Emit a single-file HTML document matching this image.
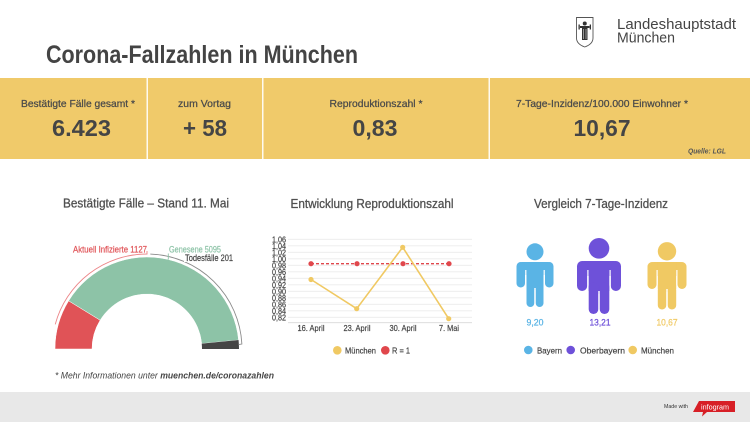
<!DOCTYPE html>
<html><head><meta charset="utf-8"><style>
html,body{margin:0;padding:0;background:#fff;}
svg{display:block;font-family:"Liberation Sans",Arial,sans-serif;}
</style></head><body>
<svg width="750" height="422" viewBox="0 0 750 422" xmlns="http://www.w3.org/2000/svg">
<rect x="0" y="0" width="750" height="422" fill="#ffffff"/>

<!-- Logo -->
<path d="M576.5,17.5 L593,17.5 L593,38 Q593,44 584.75,47 Q576.5,44 576.5,38 Z" fill="#fff" stroke="#555" stroke-width="0.9"/>
<circle cx="584.75" cy="23.5" r="2" fill="#333"/>
<path d="M580,26 L589.5,26 L589.5,28 L587.5,28 L587.5,40 L582,40 L582,28 L580,28 Z" fill="#333"/>
<rect x="578.5" y="24.5" width="1.3" height="5" fill="#333"/>
<rect x="589.7" y="24.5" width="1.3" height="5" fill="#333"/>
<line x1="583.5" y1="29" x2="583.5" y2="39" stroke="#fff" stroke-width="0.5"/>
<line x1="586" y1="29" x2="586" y2="39" stroke="#fff" stroke-width="0.5"/>
<text x="617" y="29" font-size="15" fill="#444" textLength="119" lengthAdjust="spacingAndGlyphs">Landeshauptstadt</text>
<text x="617" y="42.5" font-size="15" fill="#444" textLength="58" lengthAdjust="spacingAndGlyphs">München</text>

<!-- Title -->
<text x="46" y="63" font-size="25" font-weight="bold" fill="#444" textLength="312" lengthAdjust="spacingAndGlyphs">Corona-Fallzahlen in München</text>

<!-- Yellow band -->
<rect x="0" y="78" width="750" height="81" fill="#f0ca6a"/>
<rect x="146.5" y="78" width="1.5" height="81" fill="#fff" opacity="0.9"/>
<rect x="262" y="78" width="1.5" height="81" fill="#fff" opacity="0.9"/>
<rect x="488.5" y="78" width="1.5" height="81" fill="#fff" opacity="0.9"/>

<g font-size="10.5" fill="#4a4a4a" stroke="#4a4a4a" stroke-width="0.25" text-anchor="middle">
<text x="78" y="107" textLength="114" lengthAdjust="spacingAndGlyphs">Bestätigte Fälle gesamt *</text>
<text x="204.5" y="107" textLength="53" lengthAdjust="spacingAndGlyphs">zum Vortag</text>
<text x="376" y="107" textLength="93" lengthAdjust="spacingAndGlyphs">Reproduktionszahl *</text>
<text x="602" y="107" textLength="172" lengthAdjust="spacingAndGlyphs">7-Tage-Inzidenz/100.000 Einwohner *</text>
</g>

<text x="81.5" y="136" font-size="23.5" font-weight="bold" fill="#454545" text-anchor="middle" textLength="59" lengthAdjust="spacingAndGlyphs">6.423</text>
<text x="205" y="136" font-size="23.5" font-weight="bold" fill="#454545" text-anchor="middle" textLength="44" lengthAdjust="spacingAndGlyphs">+ 58</text>
<text x="375" y="136" font-size="23.5" font-weight="bold" fill="#454545" text-anchor="middle" textLength="45" lengthAdjust="spacingAndGlyphs">0,83</text>
<text x="602" y="136" font-size="23.5" font-weight="bold" fill="#454545" text-anchor="middle" textLength="57" lengthAdjust="spacingAndGlyphs">10,67</text>
<text x="707" y="153.5" font-size="7" font-style="italic" font-weight="bold" fill="#555" text-anchor="middle" textLength="38" lengthAdjust="spacingAndGlyphs">Quelle: LGL</text>

<!-- Section titles -->
<g font-size="13" fill="#505050" stroke="#505050" stroke-width="0.3" text-anchor="middle">
<text x="146" y="207.5" textLength="166" lengthAdjust="spacingAndGlyphs">Bestätigte Fälle – Stand 11. Mai</text>
<text x="372" y="208" textLength="163" lengthAdjust="spacingAndGlyphs">Entwicklung Reproduktionszahl</text>
<text x="601" y="208" textLength="134" lengthAdjust="spacingAndGlyphs">Vergleich 7-Tage-Inzidenz</text>
</g>

<!-- Gauge -->
<path d="M55,349 A92,92 0 0 1 68.63,300.83 L100.15,320.20 A55,55 0 0 0 92,349 Z" fill="#e05357" stroke="#fff" stroke-width="0.5"/>
<path d="M68.63,300.83 A92,92 0 0 1 238.56,339.97 L201.73,343.60 A55,55 0 0 0 100.15,320.20 Z" fill="#8dc3a7" stroke="#fff" stroke-width="0.5"/>
<path d="M238.56,339.97 A92,92 0 0 1 239,349 L202,349 A55,55 0 0 0 201.73,343.60 Z" fill="#454545"/>

<path d="M55.24,324.41 A95,95 0 0 1 147,254 L147,251" fill="none" stroke="#ec8588" stroke-width="0.9"/>
<path d="M150.3,254.06 A95,95 0 0 1 241.87,344.03 L238.5,344.6" fill="none" stroke="#8a8a8a" stroke-width="0.9"/>
<line x1="168.3" y1="253.5" x2="168.3" y2="259.5" stroke="#8dc3a7" stroke-width="0.9"/>

<rect x="184" y="253" width="51" height="9" fill="#fff"/>
<text x="73" y="252.5" font-size="9" fill="#e05357" stroke="#e05357" stroke-width="0.2" textLength="74" lengthAdjust="spacingAndGlyphs">Aktuell Infizierte 1127</text>
<text x="169" y="252.5" font-size="9" fill="#8dc3a7" stroke="#8dc3a7" stroke-width="0.2" textLength="52" lengthAdjust="spacingAndGlyphs">Genesene 5095</text>
<text x="185" y="261" font-size="9" fill="#444" stroke="#444" stroke-width="0.2" textLength="48" lengthAdjust="spacingAndGlyphs">Todesfälle 201</text>

<text x="55" y="378.5" font-size="9.5" font-style="italic" fill="#444" textLength="219" lengthAdjust="spacingAndGlyphs">* Mehr Informationen unter <tspan font-weight="bold">muenchen.de/coronazahlen</tspan></text>

<!-- Line chart gridlines -->
<g stroke="#ececec" stroke-width="0.8">
<line x1="288" y1="239.3" x2="472" y2="239.3"/>
<line x1="288" y1="245.8" x2="472" y2="245.8"/>
<line x1="288" y1="252.3" x2="472" y2="252.3"/>
<line x1="288" y1="258.8" x2="472" y2="258.8"/>
<line x1="288" y1="265.3" x2="472" y2="265.3"/>
<line x1="288" y1="271.8" x2="472" y2="271.8"/>
<line x1="288" y1="278.3" x2="472" y2="278.3"/>
<line x1="288" y1="284.8" x2="472" y2="284.8"/>
<line x1="288" y1="291.3" x2="472" y2="291.3"/>
<line x1="288" y1="297.8" x2="472" y2="297.8"/>
<line x1="288" y1="304.3" x2="472" y2="304.3"/>
<line x1="288" y1="310.8" x2="472" y2="310.8"/>
<line x1="288" y1="317.3" x2="472" y2="317.3"/>
</g>
<line x1="288" y1="322.7" x2="472" y2="322.7" stroke="#d8d8d8" stroke-width="0.9"/>

<g font-size="8.5" fill="#444" stroke="#444" stroke-width="0.2" text-anchor="end">
<text x="286" y="242.3" textLength="14" lengthAdjust="spacingAndGlyphs">1,06</text>
<text x="286" y="248.8" textLength="14" lengthAdjust="spacingAndGlyphs">1,04</text>
<text x="286" y="255.3" textLength="14" lengthAdjust="spacingAndGlyphs">1,02</text>
<text x="286" y="261.8" textLength="14" lengthAdjust="spacingAndGlyphs">1,00</text>
<text x="286" y="268.3" textLength="14" lengthAdjust="spacingAndGlyphs">0,98</text>
<text x="286" y="274.8" textLength="14" lengthAdjust="spacingAndGlyphs">0,96</text>
<text x="286" y="281.3" textLength="14" lengthAdjust="spacingAndGlyphs">0,94</text>
<text x="286" y="287.8" textLength="14" lengthAdjust="spacingAndGlyphs">0,92</text>
<text x="286" y="294.3" textLength="14" lengthAdjust="spacingAndGlyphs">0,90</text>
<text x="286" y="300.8" textLength="14" lengthAdjust="spacingAndGlyphs">0,88</text>
<text x="286" y="307.3" textLength="14" lengthAdjust="spacingAndGlyphs">0,86</text>
<text x="286" y="313.8" textLength="14" lengthAdjust="spacingAndGlyphs">0,84</text>
<text x="286" y="320.3" textLength="14" lengthAdjust="spacingAndGlyphs">0,82</text>
</g>

<!-- R = 1 -->
<line x1="311" y1="263.7" x2="449" y2="263.7" stroke="#e0474c" stroke-width="1.3" stroke-dasharray="3,2"/>
<g fill="#e0474c">
<circle cx="311" cy="263.7" r="2.6"/><circle cx="357" cy="263.7" r="2.6"/><circle cx="403" cy="263.7" r="2.6"/><circle cx="449" cy="263.7" r="2.6"/>
</g>
<!-- München -->
<polyline points="311,279.5 356.7,308.7 402.7,247.3 448.7,318.7" fill="none" stroke="#f0c963" stroke-width="1.6"/>
<g fill="#f0c963">
<circle cx="311" cy="279.5" r="2.6"/><circle cx="356.7" cy="308.7" r="2.6"/><circle cx="402.7" cy="247.3" r="2.6"/><circle cx="448.7" cy="318.7" r="2.6"/>
</g>

<g font-size="8.5" fill="#444" stroke="#444" stroke-width="0.2" text-anchor="middle">
<text x="311" y="331" textLength="27" lengthAdjust="spacingAndGlyphs">16. April</text>
<text x="357" y="331" textLength="27" lengthAdjust="spacingAndGlyphs">23. April</text>
<text x="403" y="331" textLength="27" lengthAdjust="spacingAndGlyphs">30. April</text>
<text x="449" y="331" textLength="20" lengthAdjust="spacingAndGlyphs">7. Mai</text>
</g>

<circle cx="337.3" cy="350.3" r="4.3" fill="#f0c963"/>
<text x="345" y="353.5" font-size="8.5" fill="#444" stroke="#444" stroke-width="0.2" textLength="31" lengthAdjust="spacingAndGlyphs">München</text>
<circle cx="385.3" cy="350.3" r="4.3" fill="#e0474c"/>
<text x="392" y="353.5" font-size="8.5" fill="#444" stroke="#444" stroke-width="0.2" textLength="18" lengthAdjust="spacingAndGlyphs">R = 1</text>

<!-- Persons -->
<g fill="#5ab4e5">
<circle cx="535" cy="251.8" r="8.5"/>
<rect x="516.5" y="262" width="37" height="13" rx="6"/>
<rect x="516.5" y="262" width="8.5" height="25.5" rx="4.25"/>
<rect x="545" y="262" width="8.5" height="25.5" rx="4.25"/>
<rect x="526.5" y="262" width="17" height="26"/>
<rect x="526.5" y="280" width="7.8" height="27" rx="3.9"/>
<rect x="535.7" y="280" width="7.8" height="27" rx="3.9"/>
</g>
<g stroke="#fff" stroke-width="1.2">
<line x1="525.8" y1="270" x2="525.8" y2="288"/>
<line x1="544.2" y1="270" x2="544.2" y2="288"/>
<line x1="535" y1="290" x2="535" y2="308"/>
</g>
<g fill="#6e51d9">
<circle cx="599" cy="248.3" r="10.3"/>
<rect x="577" y="261" width="44" height="15" rx="7"/>
<rect x="577" y="261" width="10.2" height="30" rx="5.1"/>
<rect x="610.8" y="261" width="10.2" height="30" rx="5.1"/>
<rect x="588.7" y="261" width="20.6" height="30"/>
<rect x="588.7" y="282" width="9.6" height="32" rx="4.8"/>
<rect x="599.7" y="282" width="9.6" height="32" rx="4.8"/>
</g>
<g stroke="#fff" stroke-width="1.2">
<line x1="587.9" y1="270" x2="587.9" y2="292"/>
<line x1="610.1" y1="270" x2="610.1" y2="292"/>
<line x1="599" y1="294" x2="599" y2="315"/>
</g>
<g fill="#f0c963">
<circle cx="667" cy="251.3" r="9.2"/>
<rect x="647.5" y="262" width="39" height="14" rx="6.5"/>
<rect x="647.5" y="262" width="9" height="27" rx="4.5"/>
<rect x="677.5" y="262" width="9" height="27" rx="4.5"/>
<rect x="657.8" y="262" width="18.4" height="27"/>
<rect x="657.8" y="281" width="8.5" height="28.5" rx="4.25"/>
<rect x="667.7" y="281" width="8.5" height="28.5" rx="4.25"/>
</g>
<g stroke="#fff" stroke-width="1.2">
<line x1="657.1" y1="270" x2="657.1" y2="290"/>
<line x1="676.9" y1="270" x2="676.9" y2="290"/>
<line x1="667" y1="292" x2="667" y2="310"/>
</g>

<text x="535" y="325.5" font-size="9.5" fill="#5ab4e5" stroke="#5ab4e5" stroke-width="0.25" text-anchor="middle" textLength="17" lengthAdjust="spacingAndGlyphs">9,20</text>
<text x="600" y="325.5" font-size="9.5" fill="#6e51d9" stroke="#6e51d9" stroke-width="0.25" text-anchor="middle" textLength="21" lengthAdjust="spacingAndGlyphs">13,21</text>
<text x="667" y="325.5" font-size="9.5" fill="#f0c963" stroke="#f0c963" stroke-width="0.25" text-anchor="middle" textLength="21" lengthAdjust="spacingAndGlyphs">10,67</text>

<circle cx="528.3" cy="350" r="4.3" fill="#5ab4e5"/>
<text x="537" y="353.3" font-size="8.5" fill="#444" stroke="#444" stroke-width="0.2" textLength="25" lengthAdjust="spacingAndGlyphs">Bayern</text>
<circle cx="570.7" cy="350" r="4.3" fill="#6e51d9"/>
<text x="580" y="353.3" font-size="8.5" fill="#444" stroke="#444" stroke-width="0.2" textLength="45" lengthAdjust="spacingAndGlyphs">Oberbayern</text>
<circle cx="632.7" cy="350" r="4.3" fill="#f0c963"/>
<text x="641" y="353.3" font-size="8.5" fill="#444" stroke="#444" stroke-width="0.2" textLength="33" lengthAdjust="spacingAndGlyphs">München</text>

<!-- Footer -->
<rect x="0" y="392" width="750" height="30" fill="#e8e8e8"/>
<text x="664" y="408" font-size="5.5" fill="#333" textLength="24" lengthAdjust="spacingAndGlyphs">Made with</text>
<path d="M699,401 L735,401 L735,412 L707,412 L702,416.5 L703,412 L693,412 Z" fill="#d71f26"/>
<text x="715" y="409.5" font-size="7.5" fill="#fff" text-anchor="middle" textLength="28" lengthAdjust="spacingAndGlyphs">infogram</text>
</svg>
</body></html>
